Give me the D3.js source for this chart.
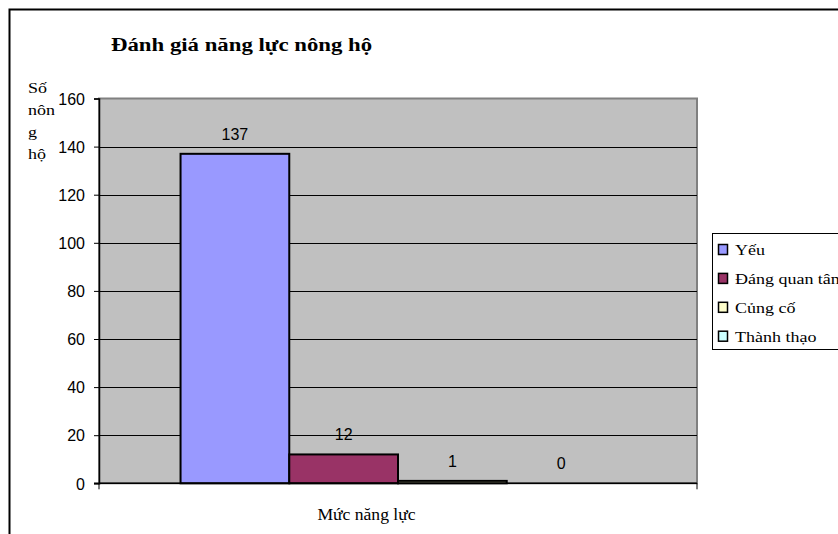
<!DOCTYPE html>
<html>
<head>
<meta charset="utf-8">
<script src="https://cdn.jsdelivr.net/npm/d3@7"></script>
<style>
  body { margin: 0; background: #fff; }
  svg { display: block; }
  .serif { font-family: 'Liberation Serif', 'Times New Roman', 'DejaVu Serif', serif; }
  .sans { font-family: 'Liberation Sans', Arial, sans-serif; }
</style>
</head>
<body>
<div id="chart"></div>
<script>
const series = ['Yếu', 'Đáng quan tâm', 'Củng cố', 'Thành thạo'];
const values = [137, 12, 1, 0];
const colors = ['#9999FF', '#993366', '#FFFFCC', '#CCFFFF'];
const yTicks = [0, 20, 40, 60, 80, 100, 120, 140, 160];
const category = 'Mức năng lực';
const yTitleLines = ['Số', 'nôn', 'g', 'hộ'];

const width = 838, height = 534;
const plot = {left: 99, right: 697, top: 98.5, bottom: 483.3};

const svg = d3.select('#chart').append('svg')
  .attr('width', width)
  .attr('height', height);

// outer chart frame, runs off the right and bottom edges
svg.append('rect')
  .attr('x', 9.5).attr('y', 9.5)
  .attr('width', width + 20).attr('height', height + 20)
  .attr('fill', '#fff')
  .attr('stroke', '#000')
  .attr('stroke-width', 2);

const y = d3.scaleLinear().domain([0, 160]).range([plot.bottom, plot.top]);
// gap width 150% -> the 4 bars fill 4/5.5 of the category
const catW = plot.right - plot.left;
const groupW = catW * 4 / 5.5;
const x1 = d3.scaleBand().domain(series)
  .range([plot.left + (catW - groupW) / 2, plot.left + (catW + groupW) / 2]);

// plot area
svg.append('rect')
  .attr('x', plot.left).attr('y', plot.top)
  .attr('width', catW).attr('height', plot.bottom - plot.top)
  .attr('fill', '#C0C0C0')
  .attr('stroke', '#808080')
  .attr('stroke-width', 2);

svg.selectAll('line.grid')
  .data(yTicks.filter(d => d > 0 && d < 160))
  .enter().append('line')
  .attr('class', 'grid')
  .attr('x1', plot.left).attr('x2', plot.right)
  .attr('y1', d => Math.round(y(d)) + 0.5).attr('y2', d => Math.round(y(d)) + 0.5)
  .attr('stroke', '#000');

svg.selectAll('rect.bar')
  .data(values)
  .enter().append('rect')
  .attr('class', 'bar')
  .attr('x', (d, i) => x1(series[i]))
  .attr('y', d => y(d))
  .attr('width', x1.bandwidth())
  .attr('height', d => y(0) - y(d))
  .attr('fill', (d, i) => colors[i])
  .attr('stroke', '#000')
  .attr('stroke-width', d => d > 0 ? 2 : 0);

svg.selectAll('text.lbl')
  .data(values)
  .enter().append('text')
  .attr('class', 'lbl sans')
  .attr('x', (d, i) => x1(series[i]) + x1.bandwidth() / 2)
  .attr('y', d => y(d) - 14)
  .attr('text-anchor', 'middle')
  .attr('font-size', 16)
  .text(d => d);

// y axis
const yAxis = svg.append('g')
  .attr('transform', `translate(${plot.left},0)`)
  .call(d3.axisLeft(y).tickValues(yTicks).tickSize(5).tickPadding(9));
yAxis.select('.domain').attr('stroke', '#000').attr('stroke-width', 1.5);
yAxis.selectAll('.tick line').attr('stroke', '#000');
yAxis.selectAll('text')
  .attr('class', 'sans')
  .attr('font-family', null)
  .attr('font-size', 16)
  .attr('dy', '0.36em')
  .attr('fill', '#000');

// x axis
svg.append('line')
  .attr('x1', plot.left - 5).attr('x2', plot.right)
  .attr('y1', plot.bottom).attr('y2', plot.bottom)
  .attr('stroke', '#000').attr('stroke-width', 1.5);
[plot.left, plot.right].forEach(px => {
  svg.append('line')
    .attr('x1', px).attr('x2', px)
    .attr('y1', plot.bottom).attr('y2', plot.bottom + 6)
    .attr('stroke', '#000');
});

// the serif texts are a bit wider than normal in the picture, so stretch them
function stretchedText(x, y, size, sx, str, anchor) {
  return svg.append('text')
    .attr('class', 'serif')
    .attr('transform', `translate(${x},${y}) scale(${sx},1)`)
    .attr('font-size', size)
    .attr('text-anchor', anchor || 'start')
    .text(str);
}

stretchedText(111, 51, 19, 1.2, 'Đánh giá năng lực nông hộ').attr('font-weight', 'bold');

yTitleLines.forEach((t, i) => stretchedText(28, 93 + i * 22, 15, 1.2, t));

stretchedText(366.5, 520, 16, 1.1, category, 'middle');

// legend
svg.append('rect')
  .attr('x', 712.5).attr('y', 233.5)
  .attr('width', 150).attr('height', 116)
  .attr('fill', '#fff')
  .attr('stroke', '#000');
series.forEach((s, i) => {
  const by = 255 + i * 28.9;
  svg.append('rect')
    .attr('x', 718.5).attr('y', by - 10.5)
    .attr('width', 9).attr('height', 10)
    .attr('fill', colors[i])
    .attr('stroke', '#000')
    .attr('stroke-width', 1.5);
  stretchedText(735, by, 15, 1.2, s);
});
</script>
</body>
</html>
